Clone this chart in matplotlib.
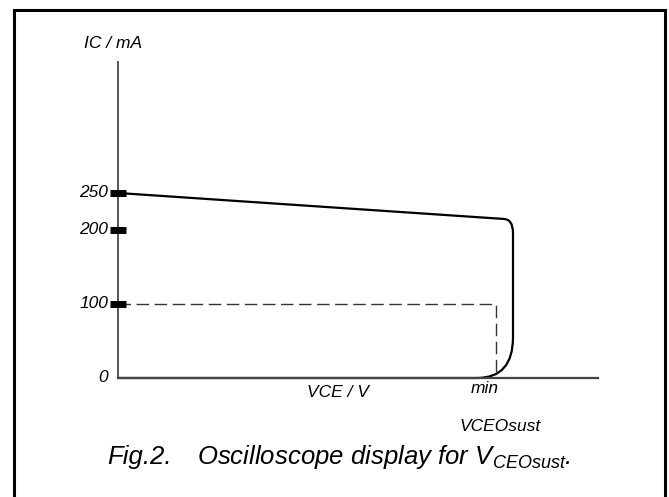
"""Oscilloscope display for VCEOsust (Fig.2)."""

import matplotlib.pyplot as plt
from matplotlib.path import Path
from matplotlib.patches import PathPatch, Rectangle

plt.rcParams['font.family'] = ['Liberation Sans', 'DejaVu Sans']
plt.rcParams['mathtext.fontset'] = 'custom'
plt.rcParams['mathtext.it'] = 'Liberation Sans:italic'
plt.rcParams['mathtext.rm'] = 'Liberation Sans:italic'

# curva IC x VCE (x em unidades arbitrárias de tela, y em mA)
curva_x = [0, 385, 395, 395, 395, 395, 359, 0]
curva_y = [250, 215, 215, 196, 55, 0, 0, 0]
curva_cod = [Path.MOVETO, Path.LINETO, Path.CURVE3, Path.CURVE3,
             Path.LINETO, Path.CURVE3, Path.CURVE3, Path.LINETO]

# linha tracejada do ponto mínimo
trac_x = [0, 378, 378]
trac_y = [100, 100, 0]

ticks_y = [250, 200, 100]
ticks_lbl = ['250', '200', '100', '0']
ticks_lbl_y = [250, 200, 100, 0]

W, H = 669, 497
fig = plt.figure(figsize=(W / 100, H / 100), dpi=100)

# moldura
fig.patches.append(Rectangle((13.5 / W, -0.05), (664.5 - 13.5) / W, 1.05 - 10 / H,
                             transform=fig.transFigure, fill=False,
                             edgecolor='black', linewidth=2.2))

ax = fig.add_axes([118 / W, (H - 378) / H, 480 / W, (378 - 62) / H])
ax.set_xlim(0, 480)
ax.set_ylim(0, 427)
ax.axis('off')

# eixos
ax.plot([0, 0], [0, 427], color='#555555', lw=1.4, clip_on=False)
ax.plot([0, 480], [0, 0], color='#444444', lw=1.6, clip_on=False)

ax.add_patch(PathPatch(Path(list(zip(curva_x, curva_y)), curva_cod),
                       fill=False, edgecolor='black', lw=1.6, clip_on=False))
ax.plot(trac_x, trac_y, color='#333333', lw=1.0, dashes=(9, 4), clip_on=False)

ax.plot([0] * len(ticks_y), ticks_y, ls='none', marker='_', markersize=11,
        markeredgewidth=5, color='black', clip_on=False)

fs = 12.5
for lbl, yv in zip(ticks_lbl, ticks_lbl_y):
    ax.text(-10, yv, lbl, ha='right', va='center', fontsize=fs, style='italic')

ax.text(-5, 452, 'IC / mA', ha='center', va='center', fontsize=fs, style='italic')
ax.text(220, -20, 'VCE / V', ha='center', va='center', fontsize=fs, style='italic')
ax.text(367, -14, 'min', ha='center', va='center', fontsize=fs, style='italic')
ax.text(382, -65, 'VCEOsust', ha='center', va='center', fontsize=fs, style='italic')

fig.text(107 / W, 1 - 457 / H, 'Fig.2.', ha='left', va='center',
         fontsize=18.5, style='italic')
fig.text(197 / W, 1 - 457 / H, r'Oscilloscope display for V$_{CEOsust}$.',
         ha='left', va='center', fontsize=18.5, style='italic')

fig.savefig('out.png', dpi=100)
